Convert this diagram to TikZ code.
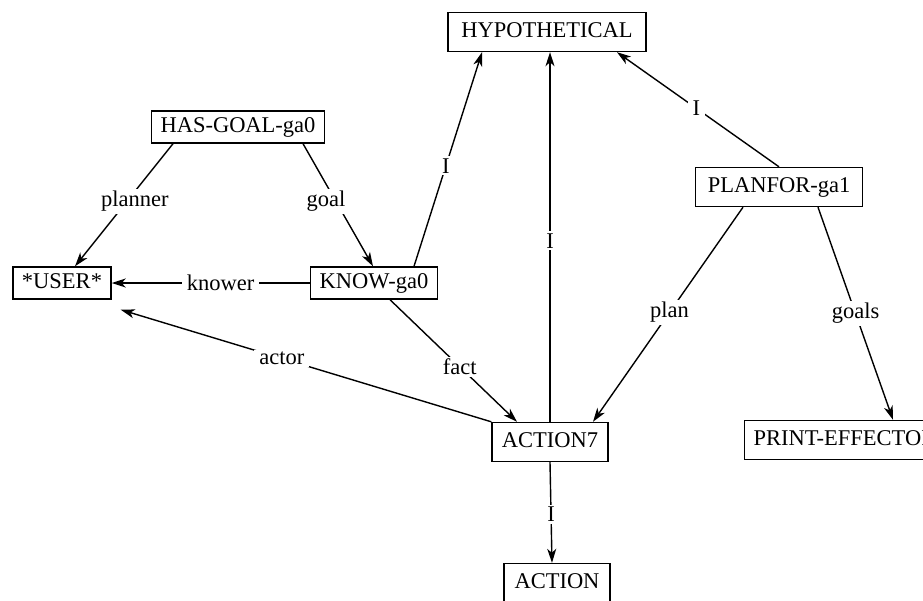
\documentclass[tikz,border=0pt]{standalone}
\usepackage{fontspec}
\setmainfont{Liberation Serif}
\usetikzlibrary{arrows.meta}
\begin{document}
\begin{tikzpicture}[x=1pt,y=-1pt,
  box/.style={draw,line width=1.4pt,inner xsep=9pt,text height=15pt,text depth=4pt,inner ysep=10pt,font=\fontsize{22.5}{26}\selectfont},
  smallbox/.style={box,inner ysep=6.5pt},
  lbl/.style={fill=white,inner xsep=5pt,inner ysep=2pt,font=\fontsize{22.5}{26}\selectfont},
  conn/.style={line width=1.4pt,-{Stealth[length=14pt,width=9pt,inset=4pt]}},
]
\useasboundingbox (0,0) rectangle (923,600);
\clip (0,0) rectangle (923,600);
\fill[white] (0,0) rectangle (923,600);

\node[box,minimum width=198pt] (hyp) at (547,32) {HYPOTHETICAL};
\node[smallbox] (hasgoal) at (238,127) {HAS-GOAL-ga0};
\node[smallbox] (user) at (62,283) {*USER*};
\node[smallbox] (know) at (374,283) {KNOW-ga0};
\node[box,minimum width=167pt] (planfor) at (779,187) {PLANFOR-ga1};
\node[box,minimum width=116pt] (action7) at (550,442) {ACTION7};
\node[box,anchor=west] (print) at (744,440) {PRINT-EFFECTOR};
\node[box,minimum width=106pt] (action) at (557,583) {ACTION};

\draw[conn] ([xshift=-65pt]hasgoal.south) -- node[lbl,pos=0.47,xshift=8pt] {planner} ([xshift=13pt]user.north);
\draw[conn] ([xshift=65pt]hasgoal.south) -- node[lbl,pos=0.47,xshift=-10pt] {goal} ([xshift=-1pt]know.north);
\draw[conn] (know.west) -- node[lbl,pos=0.45] {knower} (user.east);
\draw[conn] ([xshift=40pt]know.north) -- node[lbl,pos=0.47] {I} ([xshift=-65pt]hyp.south);
\draw[conn] (action7.north) -- node[lbl,pos=0.49] {I} ([xshift=3pt]hyp.south);
\draw[conn] (planfor.north) -- node[lbl,pos=0.51] {I} ([xshift=70pt]hyp.south);
\draw[conn] ([xshift=-36pt]planfor.south) -- node[lbl,pos=0.49] {plan} ([xshift=43pt]action7.north);
\draw[conn] ([xshift=39pt]planfor.south) -- node[lbl,pos=0.5] {goals} ([xshift=149pt]print.north west);
\draw[conn] ([xshift=16pt]know.south) -- node[lbl,pos=0.55] {fact} ([xshift=-33pt]action7.north);
\draw[conn] (action7.north west) -- node[lbl,pos=0.565] {actor} ([shift={(9pt,-10pt)}]user.south east);
\draw[conn] (action7.south) -- node[lbl,pos=0.52] {I} ([xshift=-5pt]action.north);
\end{tikzpicture}
\end{document}
